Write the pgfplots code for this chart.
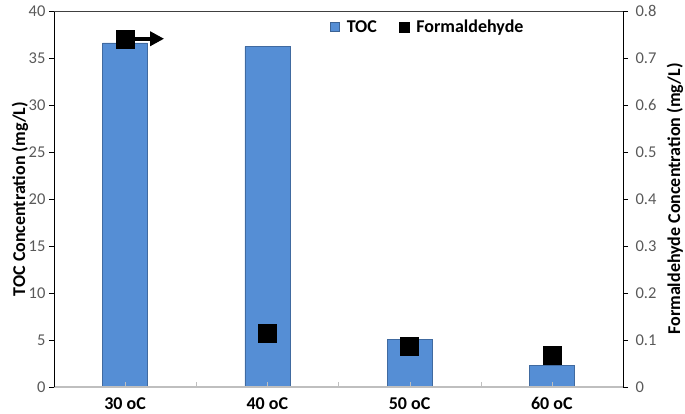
\documentclass[border=0pt]{standalone}
\usepackage{fontspec}
\setmainfont{Carlito}
\usepackage{pgfplots}
\pgfplotsset{compat=1.18}
\usetikzlibrary{arrows.meta}
\definecolor{barblue}{HTML}{558ED5}
\definecolor{tickgray}{HTML}{595959}
\begin{document}
\begin{tikzpicture}
\begin{axis}[name=ax, scale only axis, width=569pt, height=376pt,
  /pgf/number format/assume math mode=true,
  xmin=-0.5, xmax=3.5, ymin=0, ymax=40,
  axis x line*=bottom, axis y line*=left,
  x axis line style={draw=black!25, line width=1.5pt, -},
  y axis line style={draw=black, line width=0.8pt, -},
  xtick={0,1,2,3}, xticklabels={30 oC,40 oC,50 oC,60 oC},
  minor xtick={0.5,1.5,2.5},
  tick align=outside,
  major tick length=5pt, minor tick length=5pt,
  x tick style={draw=black!25, yshift=5pt},
  y tick style={draw=black, line width=0.8pt},
  xticklabel style={font=\fontsize{18}{20}\selectfont\bfseries, text=black, yshift=-2pt},
  ytick={0,5,...,40},
  yticklabel style={font=\fontsize{16.5}{18}\selectfont, text=tickgray},
  every axis y label/.style={at={(axis description cs:0,0.5)}, anchor=center, rotate=90, yshift=34pt},
  ylabel={TOC Concentration (mg/L)},
  label style={font=\fontsize{18}{20}\selectfont\bfseries},
  ybar, bar width=45pt,
  axis on top,
  legend style={at={(axis description cs:0.485,0.957)}, anchor=west, draw=none, fill=none,
    legend columns=2, font=\fontsize{18}{20}\selectfont\bfseries, inner sep=0pt,
    /tikz/every odd column/.append style={column sep=5pt},
    /tikz/every even column/.append style={column sep=20pt}},
]
\addplot[ybar, fill=barblue, draw=barblue!75!black, line width=0.6pt,
  legend image code/.code={\fill[barblue, draw=barblue!70!black] (0pt,-4.5pt) rectangle (9pt,4.5pt);}]
  coordinates {(0,36.6) (1,36.2) (2,5.1) (3,2.3)};
\addlegendentry{TOC}
\addlegendimage{legend image code/.code={\fill[black] (0pt,-5pt) rectangle (10pt,5pt);}}
\addlegendentry{Formaldehyde}
\end{axis}
\begin{axis}[scale only axis, width=569pt, height=376pt,
  /pgf/number format/assume math mode=true,
  xmin=-0.5, xmax=3.5, ymin=0, ymax=0.8,
  axis y line*=right, axis x line*=top,
  x axis line style={draw=black!75, line width=0.8pt, -},
  y axis line style={draw=black, line width=0.8pt, -},
  xtick=\empty,
  tick align=outside, major tick length=5pt,
  y tick style={draw=black, line width=0.8pt},
  ytick={0,0.1,0.2,0.3,0.4,0.5,0.6,0.7,0.8},
  yticklabels={0,0.1,0.2,0.3,0.4,0.5,0.6,0.7,0.8},
  yticklabel style={font=\fontsize{16.5}{18}\selectfont, text=tickgray, xshift=4pt},
  every axis y label/.style={at={(axis description cs:1,0.5)}, anchor=center, rotate=90, yshift=-52pt},
  ylabel={Formaldehyde Concentration (mg/L)},
  label style={font=\fontsize{18}{20}\selectfont\bfseries},
]
\draw[line width=4pt, -{Triangle[length=14pt,width=14pt]}] (axis cs:0.05,0.741) -- (axis cs:0.274,0.741);
\addplot[only marks, mark=square*, mark size=9pt, black] coordinates {(0,0.741) (1,0.115) (2,0.086) (3,0.068)};
\end{axis}
\pgfresetboundingbox
\path[use as bounding box] (ax.south west) ++(-54pt,-27pt) rectangle ++(685pt,414pt);
\end{tikzpicture}
\end{document}
